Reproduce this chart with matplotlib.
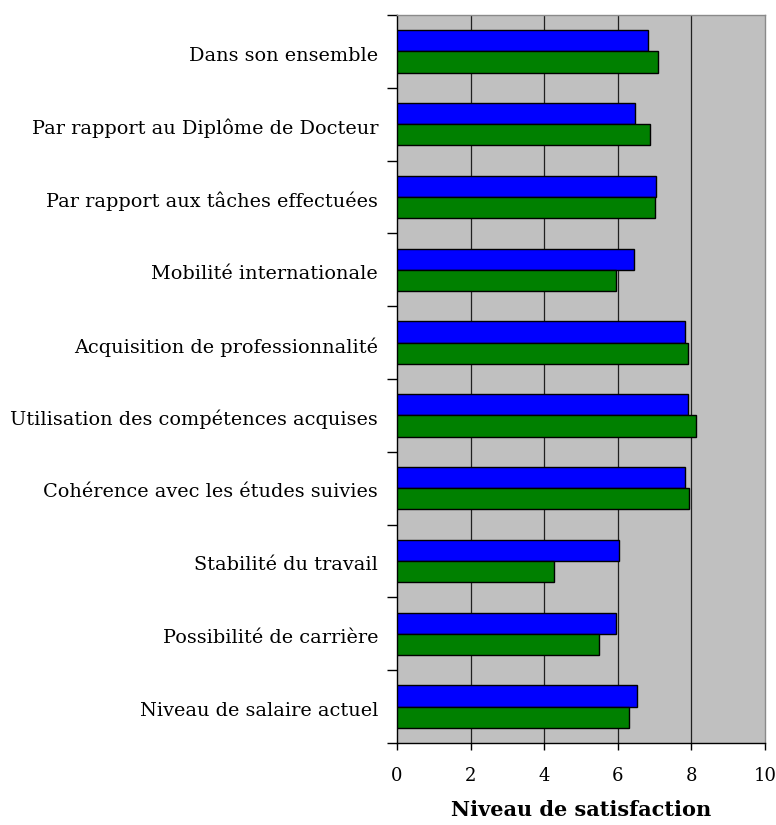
import matplotlib
matplotlib.use("Agg")
import matplotlib.pyplot as plt
import numpy as np

categories = [
    "Dans son ensemble",
    "Par rapport au Diplôme de Docteur",
    "Par rapport aux tâches effectuées",
    "Mobilité internationale",
    "Acquisition de professionnalité",
    "Utilisation des compétences acquises",
    "Cohérence avec les études suivies",
    "Stabilité du travail",
    "Possibilité de carrière",
    "Niveau de salaire actuel",
]
blue_values = [6.83, 6.48, 7.04, 6.45, 7.82, 7.91, 7.82, 6.04, 5.95, 6.52]
green_values = [7.09, 6.87, 7.00, 5.95, 7.91, 8.12, 7.93, 4.26, 5.48, 6.30]
xticks = [0, 2, 4, 6, 8, 10]
xlabel = "Niveau de satisfaction"

plt.rcParams['font.family'] = ['DejaVu Serif']

fig = plt.figure(figsize=(7.76, 8.25), dpi=100)
ax = fig.add_axes([397/776, 1-743/825, (765-397)/776, (743-15)/825])
ax.set_facecolor("#c0c0c0")

n = len(categories)
pos = np.arange(n)
h = 0.29
ax.barh(pos - h/2, blue_values, height=h, color="#0000ff", edgecolor="black", linewidth=1, zorder=3)
ax.barh(pos + h/2, green_values, height=h, color="#008000", edgecolor="black", linewidth=1, zorder=3)

ax.set_ylim(n - 0.5, -0.5)
ax.set_xlim(0, 10)
ax.set_xticks(xticks)
ax.set_xticklabels([str(t) for t in xticks], fontsize=13)
ax.set_yticks(np.arange(n + 1) - 0.5)
ax.set_yticklabels([])
ax.set_yticks(pos + 0.03, minor=True)
ax.set_yticklabels(categories, minor=True, fontsize=13.9)
ax.tick_params(axis='y', which='major', length=7, width=1, direction='out')
ax.tick_params(axis='y', which='minor', length=0, pad=13.5)
ax.tick_params(axis='x', length=5, width=1, direction='out', pad=12)

for g in [2, 4, 6, 8]:
    ax.axvline(g, color="#202020", linewidth=0.9, zorder=1)

ax.spines['left'].set_color('black')
ax.spines['bottom'].set_color('black')
ax.spines['top'].set_color('#8a8a8a')
ax.spines['right'].set_color('#8a8a8a')
for s in ax.spines.values():
    s.set_linewidth(1)

ax.set_xlabel(xlabel, fontsize=15, fontweight='bold', labelpad=11)

fig.savefig("out.png", dpi=100)
